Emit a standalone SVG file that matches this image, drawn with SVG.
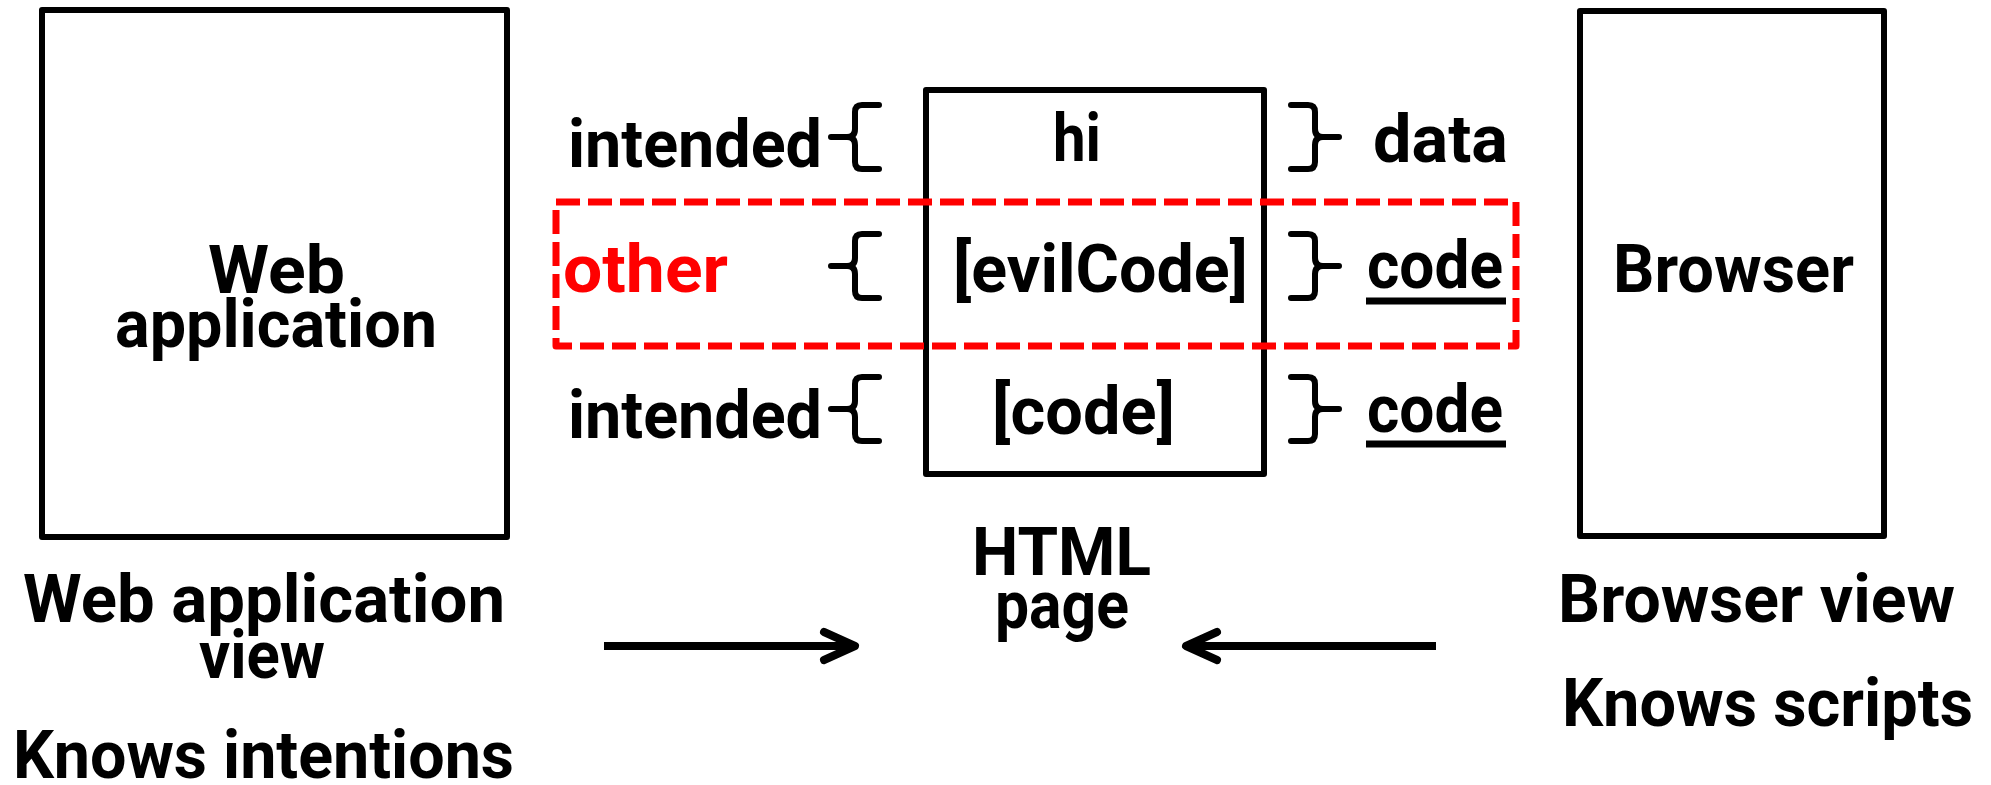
<svg xmlns="http://www.w3.org/2000/svg" width="1991" height="785" viewBox="0 0 1991 785">
  <style>
    .box { fill: none; stroke: #000; stroke-width: 6; stroke-linejoin: round; }
    .t { font-family: Roboto, "Open Sans", "DejaVu Sans", sans-serif; font-weight: bold; font-size: 66px; fill: #000; }
    .red { fill: #FF0000; }
    .brace { fill: none; stroke: #000; stroke-width: 6; stroke-linecap: round; stroke-linejoin: round; }
    .uline { stroke: #000; stroke-width: 7; }
    .hl { fill: none; stroke: #FF0000; stroke-width: 7; stroke-dasharray: 24 8; stroke-linejoin: round; }
    .arrow { fill: none; stroke: #000; stroke-width: 8; }
  </style>
  <defs>
    <!-- curly brace opening to the right, centred on its spine -->
    <path id="brace" class="brace" d="M24,-32 L7,-32 Q0,-32 0,-25 L0,-8 Q0,0 -8,0 L-24,0 M-8,0 Q0,0 0,8 L0,25 Q0,32 7,32 L24,32"/>
    <marker id="head" viewBox="-40 -20 50 40" markerWidth="50" markerHeight="40" refX="0" refY="0" markerUnits="userSpaceOnUse" orient="auto">
      <path d="M-31,-14 L0,0 L-31,14" fill="none" stroke="#000" stroke-width="8" stroke-linecap="round" stroke-linejoin="round"/>
    </marker>
  </defs>
  <rect width="1991" height="785" fill="#fff"/>

  <!-- left: web application -->
  <g id="web-app">
    <rect class="box" x="42" y="10" width="465" height="527"/>
    <text class="t" x="208" y="293" textLength="137" lengthAdjust="spacingAndGlyphs">Web</text>
    <text class="t" x="115" y="347" textLength="322" lengthAdjust="spacingAndGlyphs">application</text>
  </g>
  <g id="web-app-caption">
    <text class="t" x="23" y="622" textLength="482" lengthAdjust="spacingAndGlyphs">Web application</text>
    <text class="t" x="199" y="678" textLength="126" lengthAdjust="spacingAndGlyphs">view</text>
    <text class="t" x="13" y="778" textLength="501" lengthAdjust="spacingAndGlyphs">Knows intentions</text>
  </g>

  <!-- centre: the HTML page and its three parts -->
  <g id="html-page">
    <rect class="box" x="926" y="90" width="338" height="384"/>
    <text class="t" x="1053" y="161" textLength="48" lengthAdjust="spacingAndGlyphs">hi</text>
    <text class="t" x="953" y="292" textLength="295" lengthAdjust="spacingAndGlyphs">[evilCode]</text>
    <text class="t" x="992" y="434" textLength="183" lengthAdjust="spacingAndGlyphs">[code]</text>
  </g>
  <g id="html-page-caption">
    <text class="t" x="972" y="575" textLength="179" lengthAdjust="spacingAndGlyphs">HTML</text>
    <text class="t" x="995" y="628" textLength="134" lengthAdjust="spacingAndGlyphs">page</text>
  </g>

  <g id="row-data">
    <text class="t" x="568" y="167" textLength="254" lengthAdjust="spacingAndGlyphs">intended</text>
    <use href="#brace" transform="translate(855,137)"/>
    <use href="#brace" transform="translate(1315,137) scale(-1,1)"/>
    <text class="t" x="1373" y="162" textLength="135" lengthAdjust="spacingAndGlyphs">data</text>
  </g>

  <g id="row-evil">
    <text class="t red" x="563" y="292" textLength="165" lengthAdjust="spacingAndGlyphs">other</text>
    <use href="#brace" transform="translate(855,266)"/>
    <use href="#brace" transform="translate(1315,266) scale(-1,1)"/>
    <text class="t" x="1367" y="288" textLength="136" lengthAdjust="spacingAndGlyphs">code</text>
    <line class="uline" x1="1366" y1="301" x2="1506" y2="301"/>
  </g>

  <g id="row-code">
    <text class="t" x="568" y="438" textLength="254" lengthAdjust="spacingAndGlyphs">intended</text>
    <use href="#brace" transform="translate(855,409)"/>
    <use href="#brace" transform="translate(1315,409) scale(-1,1)"/>
    <text class="t" x="1367" y="432" textLength="136" lengthAdjust="spacingAndGlyphs">code</text>
    <line class="uline" x1="1366" y1="444" x2="1506" y2="444"/>
  </g>

  <!-- dashed highlight around the injected row -->
  <g id="highlight">
    <rect class="hl" x="556" y="202" width="960" height="144"/>
  </g>

  <!-- right: browser -->
  <g id="browser">
    <rect class="box" x="1580" y="11" width="304" height="525"/>
    <text class="t" x="1613" y="292" textLength="241" lengthAdjust="spacingAndGlyphs">Browser</text>
  </g>
  <g id="browser-caption">
    <text class="t" x="1558" y="622" textLength="397" lengthAdjust="spacingAndGlyphs">Browser view</text>
    <text class="t" x="1562" y="726" textLength="411" lengthAdjust="spacingAndGlyphs">Knows scripts</text>
  </g>

  <g id="connectors">
    <line class="arrow" x1="604" y1="646" x2="855" y2="646" marker-end="url(#head)"/>
    <line class="arrow" x1="1436" y1="646" x2="1186" y2="646" marker-end="url(#head)"/>
  </g>
</svg>
